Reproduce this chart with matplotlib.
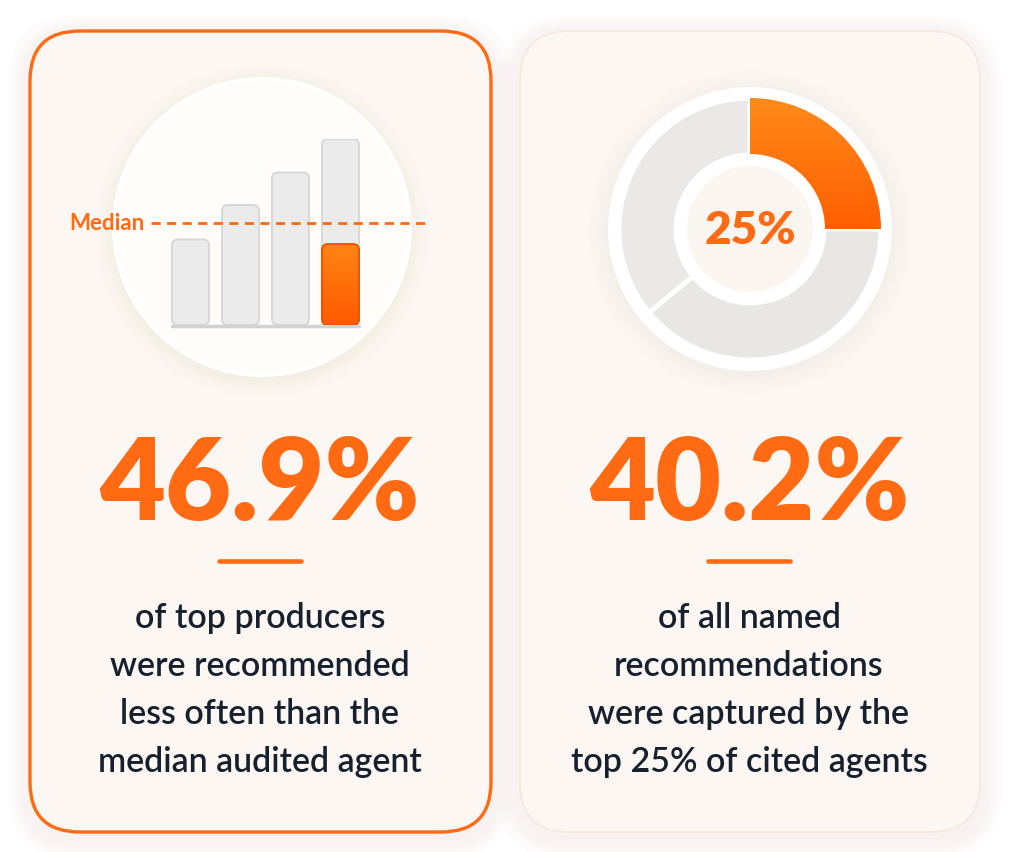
import numpy as np
import matplotlib.pyplot as plt
from matplotlib.patches import FancyBboxPatch, Circle

# data
bar_values = [46, 64.5, 82, 100]        # grey comparison bars (relative height)
highlight_index = 3                     # bar that holds the orange part
highlight_value = 43.5                  # orange "top producer" level
median_value = 55
median_label = "Median"

donut_values = [25, 39, 36]             # top 25% share, rest split in two
donut_label = "25%"

stat_values = ["46.9%", "40.2%"]
stat_captions = [
    ["of top producers", "were recommended", "less often than the", "median audited agent"],
    ["of all named", "recommendations", "were captured by the", "top 25% of cited agents"],
]

ORANGE = "#ff6a13"
TEXT = "#17212e"
plt.rcParams["font.family"] = ["Lato", "DejaVu Sans"]

W, H = 1024, 853
fig = plt.figure(figsize=(W / 100, H / 100), dpi=100)
fig.patch.set_facecolor("white")
ax = fig.add_axes([0, 0, 1, 1])
ax.set_xlim(0, W)
ax.set_ylim(H, 0)
ax.axis("off")


def px_axes(x0, y0, x1, y1):
    # box in pixels (top-left origin) -> new axes
    a = fig.add_axes([x0 / W, 1 - y1 / H, (x1 - x0) / W, (y1 - y0) / H])
    a.patch.set_alpha(0)
    a.axis("off")
    return a


def gradient(axis, patch, extent, c_top, c_bot):
    g = np.linspace(0, 1, 64).reshape(-1, 1)
    c1 = np.array(plt.matplotlib.colors.to_rgb(c_top))
    c2 = np.array(plt.matplotlib.colors.to_rgb(c_bot))
    img = c1 + (c2 - c1) * g[..., None]
    img = np.repeat(img, 8, axis=1)
    im = axis.imshow(img, extent=extent, origin="upper", aspect="auto", zorder=patch.get_zorder())
    im.set_clip_path(patch)


# cards + soft shadows
cards = [(30, 32, 491, 833), (520, 32, 980, 833)]
for i, (x0, y0, x1, y1) in enumerate(cards):
    for k in range(8):
        g = 2 + k * 3
        ax.add_patch(FancyBboxPatch((x0 - g, y0 - g + 6), x1 - x0 + 2 * g, y1 - y0 + 2 * g,
                                    boxstyle=f"round,pad=0,rounding_size={50 + g}",
                                    fc="#eccab2", ec="none", alpha=0.025))
    ax.add_patch(FancyBboxPatch((x0, y0), x1 - x0, y1 - y0,
                                boxstyle="round,pad=0,rounding_size=50",
                                fc="#fcf7f3", ec=ORANGE if i == 0 else "#f4e8de",
                                lw=2.4 if i == 0 else 1.2))

# icon circle on the left card
for k in range(8):
    ax.add_patch(Circle((262, 232), 149 + k * 2.5, fc="#f2cdb2", ec="none", alpha=0.018))
ax.add_patch(Circle((262, 228), 148, fc="#fffcfa", ec="white", lw=3))

# bar icon
bx = px_axes(140.5, 140, 440.5, 326)
bx.set_xlim(-1, 5)
bx.set_ylim(0, 100)
asp = 50 / 1.86
xs = np.arange(len(bar_values))
bars = bx.bar(xs, bar_values, width=0.74)
bx.plot([xs[0] - 0.37, xs[-1] + 0.37], [-0.8, -0.8], color="#d2d2d2", lw=2.5,
        solid_capstyle="round", zorder=1, clip_on=False)
for b in bars:
    x, w, h = b.get_x(), b.get_width(), b.get_height()
    b.remove()
    bx.add_patch(FancyBboxPatch((x, 0), w, h, boxstyle="round,pad=0,rounding_size=0.12",
                                mutation_aspect=asp, fc="#ebebeb", ec="#d6d6d6", lw=1.3, zorder=2))
hb = bars[highlight_index]
hp = FancyBboxPatch((hb.get_x(), 0), hb.get_width(), highlight_value,
                    boxstyle="round,pad=0,rounding_size=0.12", mutation_aspect=asp,
                    fc=ORANGE, ec="#ee5200", lw=1.2, zorder=3)
bx.add_patch(hp)
gradient(bx, hp, (hb.get_x(), hb.get_x() + hb.get_width(), 0, highlight_value), "#ff8414", "#ff5a00")
bx.add_patch(FancyBboxPatch((hb.get_x(), 0), hb.get_width(), highlight_value,
                            boxstyle="round,pad=0,rounding_size=0.12", mutation_aspect=asp,
                            fc="none", ec="#ee5200", lw=1.2, zorder=4))
bx.set_xlim(-1, 5)
bx.set_ylim(0, 100)
bx.plot([-0.8, 4.7], [median_value, median_value], color=ORANGE, lw=2,
        ls=(0, (3.3, 2.3)), zorder=5, clip_on=False)
bx.text(-0.92, median_value, median_label, ha="right", va="center", color=ORANGE,
        fontsize=16, fontweight="bold", clip_on=False)

# donut icon
R = 131.0
dx = px_axes(600, 80, 900, 380)
lim = 150 / R
dx.set_xlim(-lim, lim)
dx.set_ylim(-lim, lim)
dx.set_aspect("equal")
for k in range(8):
    dx.add_patch(Circle((0, -3 / R), (144 + k * 2.5) / R, fc="#f0d2bd", ec="none", alpha=0.018, clip_on=False))
dx.add_patch(Circle((0, 0), 142 / R, fc="white", ec="none"))
wedges, _ = dx.pie(donut_values, radius=1, startangle=90, counterclock=False,
                   colors=[ORANGE, "#e8e7e5", "#eae9e7"],
                   wedgeprops=dict(width=57 / R, edgecolor="white", linewidth=3.5))
gradient(dx, wedges[0], (0, 1, 0, 1), "#ff8a1c", "#ff5f00")
dx.add_patch(Circle((0, 0), 75 / R, fc="white", ec="none", zorder=4))
dx.add_patch(Circle((0, 0), 63 / R, fc="#fcf6f1", ec="none", zorder=4))
dx.set_xlim(-lim, lim)
dx.set_ylim(-lim, lim)
dx.text(0, 0, donut_label, ha="center", va="center", color=ORANGE,
        fontsize=33, fontweight="heavy", zorder=5)

# big numbers, rules and captions
centers = [260, 749]
for cx, val, cap in zip(centers, stat_values, stat_captions):
    ax.text(cx, 520, val, ha="center", va="baseline", color=ORANGE,
            fontsize=82, fontweight="heavy")
    ax.plot([cx - 41, cx + 41], [562, 562], color=ORANGE, lw=3.3, solid_capstyle="round")
    for j, line in enumerate(cap):
        ax.text(cx, 628 + 48 * j, line, ha="center", va="baseline", color=TEXT,
                fontsize=24.5, fontweight="semibold")

fig.savefig("out.png", dpi=100, facecolor="white")
